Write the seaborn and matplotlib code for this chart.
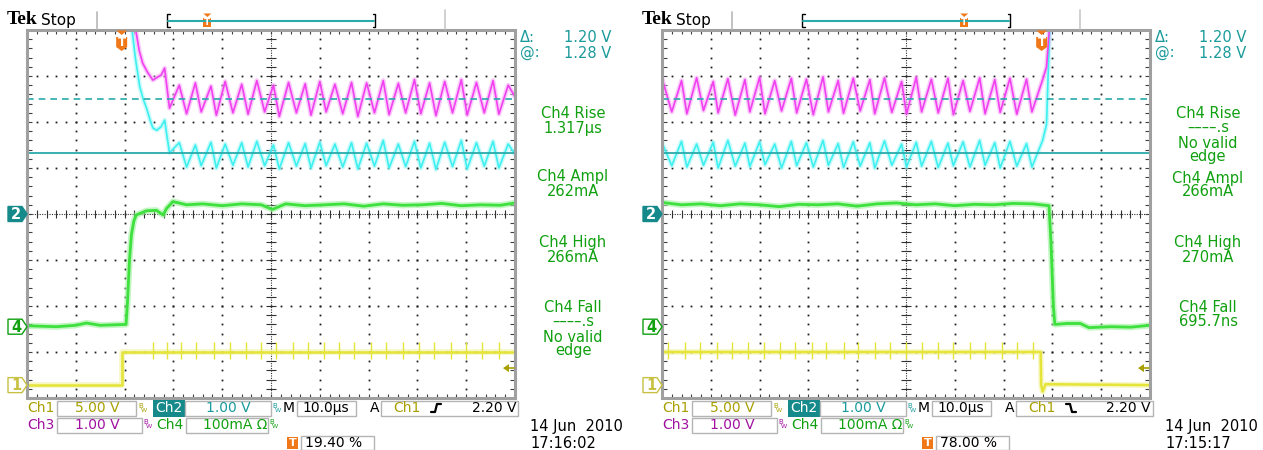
import numpy as np
import matplotlib
matplotlib.use("Agg")
import matplotlib.pyplot as plt
from matplotlib.patches import Polygon, Rectangle
import seaborn as sns

sns.set_style("white")
plt.rcParams['font.family'] = ['DejaVu Sans']

# ---------------- data (screen divisions: x 0..10, y -4..4) ----------------
# Left capture (rising edge)
L_YEL_X = [0.0, 1.94, 1.94, 10.0]
L_YEL_Y = [-3.72, -3.72, -3.0, -3.0]
L_YEL_SPK = [2.58, 2.86, 3.16, 3.47, 3.84, 4.15, 4.49, 4.80, 5.11, 5.45, 5.75, 6.09,
             6.40, 6.71, 7.05, 7.36, 7.70, 8.04, 8.34, 8.69, 8.99, 9.33, 9.67]

L_GRN_X = [0.0, 0.6, 1.0, 1.22, 1.5, 2.03, 2.06, 2.10, 2.14, 2.19, 2.24, 2.45, 2.65, 2.79,
           2.86, 2.99, 3.27, 3.6, 4.0, 4.4, 4.8, 5.03, 5.3, 5.7, 6.1, 6.5, 6.9, 7.3, 7.7,
           8.1, 8.5, 8.9, 9.3, 9.7, 10.0]
L_GRN_Y = [-2.43, -2.45, -2.42, -2.37, -2.42, -2.40, -1.9, -1.0, -0.45, -0.15, -0.02, 0.07,
           0.08, -0.02, 0.12, 0.27, 0.20, 0.22, 0.18, 0.22, 0.20, 0.10, 0.22, 0.18, 0.20,
           0.22, 0.17, 0.22, 0.19, 0.20, 0.23, 0.18, 0.20, 0.19, 0.24]

L_MAG_PRE_X = [2.18, 2.30, 2.37, 2.47, 2.58, 2.68, 2.75, 2.82]
L_MAG_PRE_Y = [4.3, 3.55, 3.28, 3.08, 2.91, 2.98, 3.02, 3.17]
L_CYN_PRE_X = [2.12, 2.22, 2.31, 2.38, 2.45, 2.52, 2.58, 2.66, 2.75, 2.82]
L_CYN_PRE_Y = [4.3, 3.4, 2.77, 2.5, 2.3, 2.05, 1.87, 1.82, 1.90, 2.04]

L_RIP_X = [2.92, 3.12, 3.27, 3.45, 3.57, 3.77, 3.88, 4.06, 4.22, 4.40,
           4.53, 4.71, 4.87, 5.05, 5.17, 5.36, 5.52, 5.70, 5.82, 6.00,
           6.13, 6.31, 6.47, 6.65, 6.78, 6.96, 7.12, 7.30, 7.42, 7.61,
           7.76, 7.94, 8.07, 8.25, 8.38, 8.56, 8.72, 8.90, 9.02, 9.21,
           9.37, 9.55, 9.67, 9.86, 10.0]
L_MAG_RIP_Y = [2.30, 2.80, 2.18, 2.85, 2.22, 2.78, 2.15, 2.88, 2.20, 2.82,
               2.17, 2.90, 2.22, 2.80, 2.12, 2.86, 2.20, 2.83, 2.15, 2.88,
               2.22, 2.82, 2.18, 2.86, 2.12, 2.85, 2.20, 2.90, 2.16, 2.84,
               2.20, 2.92, 2.18, 2.85, 2.14, 2.88, 2.20, 2.92, 2.15, 2.86,
               2.20, 2.90, 2.17, 2.80, 2.55]
L_CYN_RIP_Y = [1.33, 1.55, 1.02, 1.50, 1.05, 1.56, 1.00, 1.52, 1.06, 1.55,
               1.02, 1.58, 1.05, 1.50, 0.98, 1.55, 1.04, 1.53, 1.00, 1.56,
               1.05, 1.52, 1.02, 1.55, 0.98, 1.54, 1.04, 1.60, 1.00, 1.52,
               1.03, 1.58, 1.00, 1.54, 0.97, 1.56, 1.03, 1.60, 0.98, 1.55,
               1.04, 1.58, 1.00, 1.52, 1.30]

# Right capture (falling edge)
R_YEL_X = [0.0, 7.76, 7.77, 7.80, 7.86, 10.0]
R_YEL_Y = [-3.0, -3.0, -3.72, -3.86, -3.70, -3.72]
R_YEL_SPK = [0.13, 0.47, 0.78, 1.12, 1.43, 1.77, 2.08, 2.42, 2.73, 3.07, 3.37, 3.72,
             4.02, 4.36, 4.67, 5.01, 5.32, 5.66, 5.97, 6.31, 6.62, 6.96, 7.27, 7.61]

R_GRN_X = [0.0, 0.4, 0.8, 1.2, 1.6, 2.0, 2.4, 2.8, 3.2, 3.6, 4.0, 4.4, 4.8, 5.2, 5.6,
           6.0, 6.4, 6.8, 7.2, 7.6, 7.93, 7.97, 8.02, 8.05, 8.3, 8.57, 8.75, 9.2, 9.6, 10.0]
R_GRN_Y = [0.25, 0.20, 0.22, 0.18, 0.22, 0.20, 0.16, 0.21, 0.20, 0.22, 0.17, 0.22, 0.24,
           0.20, 0.22, 0.18, 0.21, 0.20, 0.23, 0.22, 0.18, -0.6, -2.0, -2.40, -2.38,
           -2.38, -2.47, -2.45, -2.46, -2.42]

R_RIP_X = [0.00, 0.20, 0.40, 0.51, 0.71, 0.85, 1.05, 1.15, 1.35, 1.50,
           1.70, 1.80, 2.00, 2.11, 2.31, 2.45, 2.65, 2.76, 2.96, 3.10,
           3.30, 3.41, 3.61, 3.72, 3.92, 4.06, 4.26, 4.36, 4.56, 4.71,
           4.91, 5.01, 5.21, 5.32, 5.52, 5.66, 5.86, 5.97, 6.17, 6.31,
           6.51, 6.62, 6.82, 6.93, 7.13, 7.27, 7.47, 7.58, 7.80, 7.88,
           7.93, 7.96]
R_MAG_Y = [2.95, 2.22, 2.90, 2.18, 2.96, 2.25, 2.88, 2.20, 2.94, 2.15,
           2.92, 2.22, 2.97, 2.18, 2.90, 2.24, 2.95, 2.20, 2.93, 2.16,
           2.98, 2.22, 2.90, 2.19, 2.95, 2.24, 2.92, 2.18, 2.96, 2.21,
           2.88, 2.17, 2.97, 2.22, 2.93, 2.20, 2.95, 2.16, 2.90, 2.23,
           2.96, 2.18, 2.92, 2.21, 2.95, 2.17, 2.93, 2.22, 2.92, 3.20,
           3.90, 4.40]
R_CYN_Y = [1.55, 1.05, 1.58, 1.02, 1.52, 1.06, 1.56, 1.00, 1.60, 1.04,
           1.54, 1.03, 1.57, 1.07, 1.52, 1.00, 1.58, 1.05, 1.55, 1.02,
           1.60, 1.06, 1.53, 1.01, 1.57, 1.04, 1.55, 1.00, 1.59, 1.06,
           1.52, 1.02, 1.56, 1.04, 1.58, 1.01, 1.54, 1.05, 1.57, 1.02,
           1.60, 1.06, 1.55, 1.00, 1.58, 1.04, 1.53, 1.02, 1.60, 1.95,
           3.60, 4.40]

CURSOR_SOLID = 1.32
CURSOR_DASHED = 2.50
TRIG_POS = [1.94, 7.78]          # divisions
TRIG_PCT = ["19.40 %", "78.00 %"]
TRIG_LEVEL = -3.35
CH_LEVELS = [("2", 0.0), ("4", -2.45), ("1", -3.72)]

MEAS_L = ["Ch4 Rise", "1.317µs", "Ch4 Ampl", "262mA", "Ch4 High", "266mA",
          "Ch4 Fall", "––––.s", "No valid", "edge"]
MEAS_L_Y = [113, 128, 177, 192, 242, 257, 307, 322, 337, 351]
MEAS_R = ["Ch4 Rise", "––––.s", "No valid", "edge", "Ch4 Ampl", "266mA",
          "Ch4 High", "270mA", "Ch4 Fall", "695.7ns"]
MEAS_R_Y = [113, 128, 143, 157, 178, 192, 243, 257, 307, 322]
CURSOR_TXT = [("Δ:", "1.20 V"), ("@:", "1.28 V")]
DATES = ["14 Jun  2010", "14 Jun  2010"]
TIMES = ["17:16:02", "17:15:17"]

# ---------------- colours ----------------
YEL, YEL_H = "#e4e43a", "#f2f29a"
GRN, GRN_H = "#3ee03e", "#9cf09c"
CYN, CYN_H = "#3ef0f0", "#a8f8f8"
MAG, MAG_H = "#f040f0", "#f8a8f8"
TEAL_LINE = "#2aaaaa"
TEAL_TXT = "#1a9a9a"
TEAL_BG = "#168a8a"
OLIVE = "#a8a000"
MAG_TXT = "#a010a0"
GRN_TXT = "#10a010"
ORANGE = "#f07818"

W, H = 1263, 450
GX, GY, GW, GH = 27, 30, 488, 368
DX = 635

fig = plt.figure(figsize=(W / 100, H / 100), dpi=100)
fig.patch.set_facecolor("white")
ov = fig.add_axes([0, 0, 1, 1], zorder=5)
ov.set_xlim(0, W)
ov.set_ylim(H, 0)
ov.axis("off")
ov.patch.set_alpha(0)


def px(ox, d):
    return ox + GX + d * GW / 10.0


def py(v):
    return GY + (4 - v) * GH / 8.0


def trace(ax, xs, ys, core, halo, lw_core, lw_halo):
    sns.lineplot(x=xs, y=ys, ax=ax, color=halo, linewidth=lw_halo, alpha=0.6,
                 sort=False, estimator=None, legend=False, zorder=3)
    sns.lineplot(x=xs, y=ys, ax=ax, color=core, linewidth=lw_core,
                 sort=False, estimator=None, legend=False, zorder=4)


def graticule(ax):
    mx = np.arange(0, 10.001, 0.2)
    my = np.arange(-4, 4.001, 0.2)
    for g in range(1, 10):
        if g == 5:
            continue
        ax.plot(np.full_like(my, g), my, ls="none", marker="s", ms=1.3, mew=0,
                color="#202020", zorder=1)
    for g in range(-3, 4):
        if g == 0:
            continue
        ax.plot(mx, np.full_like(mx, g), ls="none", marker="s", ms=1.3, mew=0,
                color="#202020", zorder=1)
    ax.axhline(0, color="#303030", lw=0.8, ls=(0, (1, 1.2)), zorder=1)
    ax.axvline(5, color="#303030", lw=0.8, ls=(0, (1, 1.2)), zorder=1)
    ax.vlines(mx, -0.08, 0.08, color="#303030", lw=0.8, zorder=1)
    ax.hlines(my, 4.9, 5.1, color="#303030", lw=0.8, zorder=1)
    # border ticks
    ax.vlines(mx, 3.92, 4.0, color="#404040", lw=0.8, zorder=1)
    ax.vlines(mx, -4.0, -3.92, color="#404040", lw=0.8, zorder=1)
    ax.hlines(my, 0, 0.1, color="#404040", lw=0.8, zorder=1)
    ax.hlines(my, 9.9, 10, color="#404040", lw=0.8, zorder=1)
    ax.add_patch(Rectangle((0, 0), 1, 1, transform=ax.transAxes, fill=False,
                           ec="#a0a0a0", lw=2.2, clip_on=False, zorder=6))


def panel(ox, yel, spk, grn, mag, cyn, trig, pct, meas, meas_y, date, tm, rising):
    ax = fig.add_axes([(ox + GX) / W, (H - GY - GH) / H, GW / W, GH / H], zorder=1)
    graticule(ax)
    trace(ax, yel[0], yel[1], YEL, YEL_H, 1.8, 4.0)
    lvl = -3.0
    ax.vlines(spk, lvl - 0.15, lvl + 0.22, color=YEL, lw=1.0, zorder=4)
    trace(ax, grn[0], grn[1], GRN, GRN_H, 2.0, 4.5)
    trace(ax, cyn[0], cyn[1], CYN, CYN_H, 1.2, 3.4)
    trace(ax, mag[0], mag[1], MAG, MAG_H, 1.2, 3.4)
    ax.axhline(CURSOR_SOLID, color=TEAL_LINE, lw=1.3, zorder=5)
    ax.axhline(CURSOR_DASHED, color=TEAL_LINE, lw=1.2, ls=(0, (4, 3)), zorder=5)
    ax.set_xlim(0, 10)
    ax.set_ylim(-4, 4)
    ax.axis("off")

    # channel markers on the left
    for lab, lv in CH_LEVELS:
        y = py(lv)
        x0, x1, tip = ox + 8, ox + 22, ox + 27
        if lab == "2":
            fc, ec, tc = TEAL_BG, TEAL_BG, "white"
        elif lab == "4":
            fc, ec, tc = "white", GRN_TXT, GRN_TXT
        else:
            fc, ec, tc = "white", "#c8c040", "#c8c040"
        ov.add_patch(Polygon([(x0, y - 7.5), (x1, y - 7.5), (tip, y), (x1, y + 7.5), (x0, y + 7.5)],
                             closed=True, fc=fc, ec=ec, lw=1.0))
        ov.text((x0 + x1) / 2 + 1, y + 0.5, lab, color=tc, ha="center", va="center",
                fontsize=10.5, fontweight="bold")

    # trigger T at top of graticule
    tx = px(ox, trig)
    ov.add_patch(Polygon([(tx - 5.5, 30.5), (tx + 5.5, 30.5), (tx, 35)], closed=True, fc=ORANGE, ec="none"))
    ov.add_patch(Polygon([(tx - 5.5, 37), (tx + 5.5, 37), (tx + 5.5, 47), (tx, 51), (tx - 5.5, 47)],
                         closed=True, fc=ORANGE, ec="none"))
    ov.text(tx, 43, "T", color="white", ha="center", va="center", fontsize=8.5, fontweight="bold")

    # trigger level arrow
    ty = py(TRIG_LEVEL)
    ax_r = ox + GX + GW
    ov.add_patch(Polygon([(ax_r - 12, ty), (ax_r - 6, ty - 4), (ax_r - 6, ty + 4)], closed=True,
                         fc="#a8a000", ec="none"))
    ov.plot([ax_r - 7, ax_r - 1], [ty, ty], color="#a8a000", lw=1.2)

    # header
    ov.text(ox + 7, 20, "Tek", fontfamily="Liberation Serif", fontweight="bold", fontsize=14,
            va="center", ha="left", color="black")
    ov.text(ox + 41, 20, "Stop", fontsize=11, va="center", ha="left", color="black")
    ov.plot([ox + 97, ox + 97], [12, 29], color="#b8b8b8", lw=1.2)
    ov.plot([ox + 445, ox + 445], [10, 29], color="#c8c8c8", lw=1.2)
    b0, b1 = ox + 167, ox + 375
    ov.plot([b0 + 2.5, b0, b0, b0 + 2.5], [14, 14, 27, 27], color="black", lw=1)
    ov.plot([b1 - 2.5, b1, b1, b1 - 2.5], [14, 14, 27, 27], color="black", lw=1)
    ov.plot([b0 + 1, b1 - 1], [21, 21], color=TEAL_LINE, lw=1.5)
    hx = b0 + float(pct.split()[0]) / 100.0 * (b1 - b0)
    ov.add_patch(Polygon([(hx - 4, 13.5), (hx + 4, 13.5), (hx, 17)], closed=True, fc=ORANGE, ec="none"))
    ov.add_patch(Rectangle((hx - 4, 18), 8, 9, fc=ORANGE, ec="none"))
    ov.text(hx, 22.5, "T", color="white", ha="center", va="center", fontsize=6.5, fontweight="bold")

    # cursor readouts & measurements
    for i, (a, b) in enumerate(CURSOR_TXT):
        yy = 38 + 15 * i
        ov.text(ox + 520, yy, a, color=TEAL_TXT, fontsize=10.5, va="center", ha="left")
        ov.text(ox + 611, yy, b, color=TEAL_TXT, fontsize=10.5, va="center", ha="right")
    for s, yy in zip(meas, meas_y):
        ov.text(ox + 573, yy, s, color=GRN_TXT, fontsize=10.5, va="center", ha="center")

    # bottom status
    Y1, Y2, Y3 = 408, 425, 443

    def box(x0, x1, y0, y1):
        ov.add_patch(Rectangle((ox + x0, y0), x1 - x0, y1 - y0, fill=False, ec="#b4b4b4", lw=1))

    def t(x, y, s, c, ha="left", fs=10):
        ov.text(ox + x, y, s, color=c, ha=ha, va="center", fontsize=fs)

    def bw(x, y, c):
        ov.text(ox + x, y - 2.5, "B", color=c, fontsize=5, ha="left", va="center")
        ov.text(ox + x + 3, y + 2, "W", color=c, fontsize=4.5, ha="left", va="center")

    t(27, Y1, "Ch1", OLIVE)
    box(57, 136, 401, 416)
    t(97, Y1, "5.00 V", OLIVE, ha="center")
    bw(138, Y1, OLIVE)
    ov.add_patch(Rectangle((ox + 153, 400), 32, 17, fc=TEAL_BG, ec="none"))
    t(169, Y1, "Ch2", "white", ha="center")
    box(185, 271, 401, 416)
    t(228, Y1, "1.00 V", TEAL_TXT, ha="center")
    bw(272, Y1, TEAL_TXT)
    t(283, Y1, "M", "black")
    box(297, 356, 401, 416)
    t(326, Y1, "10.0µs", "black", ha="center")
    t(370, Y1, "A", "black")
    box(381, 518, 401, 416)
    t(393, Y1, "Ch1", OLIVE)
    if rising:
        ov.plot([ox + 431, ox + 435, ox + 437, ox + 441], [Y1 + 4, Y1 + 4, Y1 - 4, Y1 - 4],
                color="black", lw=1.6)
    else:
        ov.plot([ox + 431, ox + 435, ox + 437, ox + 441], [Y1 - 4, Y1 - 4, Y1 + 4, Y1 + 4],
                color="black", lw=1.6)
    t(516, Y1, "2.20 V", "black", ha="right")

    t(27, Y2, "Ch3", MAG_TXT)
    box(57, 142, 418, 433)
    t(97, Y2, "1.00 V", MAG_TXT, ha="center")
    bw(143, Y2, MAG_TXT)
    t(156, Y2, "Ch4", GRN_TXT)
    box(186, 268, 418, 433)
    t(203, Y2, "100mA Ω", GRN_TXT)
    bw(269, Y2, GRN_TXT)

    ov.add_patch(Rectangle((ox + 287, 437), 11, 12, fc=ORANGE, ec="none"))
    ov.text(ox + 292.5, Y3, "T", color="white", ha="center", va="center", fontsize=8, fontweight="bold")
    box(301, 374, 436, 450)
    t(305, Y3, pct, "black")

    t(530, 427, date, "black", fs=10.5)
    t(530, Y3, tm, "black", fs=10.5)


panel(0, (L_YEL_X, L_YEL_Y), L_YEL_SPK, (L_GRN_X, L_GRN_Y),
      (L_MAG_PRE_X + L_RIP_X, L_MAG_PRE_Y + L_MAG_RIP_Y),
      (L_CYN_PRE_X + L_RIP_X, L_CYN_PRE_Y + L_CYN_RIP_Y),
      TRIG_POS[0], TRIG_PCT[0], MEAS_L, MEAS_L_Y, DATES[0], TIMES[0], True)
panel(DX, (R_YEL_X, R_YEL_Y), R_YEL_SPK, (R_GRN_X, R_GRN_Y),
      (R_RIP_X, R_MAG_Y), (R_RIP_X, R_CYN_Y),
      TRIG_POS[1], TRIG_PCT[1], MEAS_R, MEAS_R_Y, DATES[1], TIMES[1], False)

fig.savefig("out.png", dpi=100, facecolor="white")
